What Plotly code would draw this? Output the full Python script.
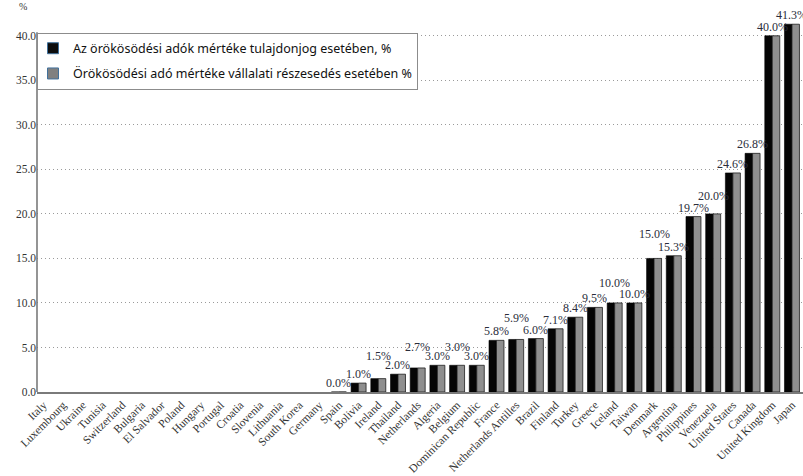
import plotly.graph_objects as go

countries = [
    "Italy", "Luxembourg", "Ukraine", "Tunisia", "Switzerland", "Bulgaria",
    "El Salvador", "Poland", "Hungary", "Portugal", "Croatia", "Slovenia",
    "Lithuania", "South Korea", "Germany", "Spain", "Bolivia", "Ireland",
    "Thailand", "Netherlands", "Algeria", "Belgium", "Dominican Republic",
    "France", "Netherlands Antilles", "Brazil", "Finland", "Turkey", "Greece",
    "Iceland", "Taiwan", "Denmark", "Argentina", "Philippines", "Venezuela",
    "United States", "Canada", "United Kingdom", "Japan",
]

# inheritance tax rate on property, %
property_rate = [
    None, None, None, None, None, None, None, None, None, None, None, None,
    None, None, None, 0.0, 1.0, 1.5, 2.0, 2.7, 3.0, 3.0, 3.0, 5.8, 5.9, 6.0,
    7.1, 8.4, 9.5, 10.0, 10.0, 15.0, 15.3, 19.7, 20.0, 24.6, 26.8, 40.0, 41.3,
]

# inheritance tax rate on company shares, %
share_rate = [
    None, None, None, None, None, None, None, None, None, None, None, None,
    None, None, None, 0.0, 1.0, 1.5, 2.0, 2.7, 3.0, 3.0, 3.0, 5.8, 5.9, 6.0,
    7.1, 8.4, 9.5, 10.0, 10.0, 15.0, 15.3, 19.7, 20.0, 24.6, 26.8, 40.0, 41.3,
]

series_names = [
    "Az örökösödési adók mértéke tulajdonjog esetében, %",
    "Örökösödési adó mértéke vállalati részesedés esetében %",
]

y_ticks = [0, 5, 10, 15, 20, 25, 30, 35, 40]

# extra lift (px) for value labels that would otherwise collide
label_lift = {
    "Ireland": 14, "Netherlands": 12, "Belgium": 9, "Netherlands Antilles": 12,
    "Iceland": 11, "Denmark": 15, "Venezuela": 9,
}

SERIF = "Liberation Serif, Times New Roman, serif"

fig = go.Figure()

fig.add_trace(go.Bar(
    x=countries, y=property_rate, name=series_names[0], showlegend=False,
    marker=dict(color="#050505", line=dict(color="#000000", width=0.6)),
    hoverinfo="x+y",
))
fig.add_trace(go.Bar(
    x=countries, y=share_rate, name=series_names[1], showlegend=False,
    marker=dict(color="#8f8f8f", line=dict(color="#1e1e1e", width=0.8)),
    hoverinfo="x+y",
))

# legend entries with square swatches
for name, col, grp in [(series_names[0], "#0d0d0d", "a"), (series_names[1], "#808080", "b")]:
    fig.add_trace(go.Scatter(
        x=[None], y=[None], mode="markers", name=name, legendgroup=grp,
        marker=dict(symbol="square", size=11, color=col,
                    line=dict(color="#41719c", width=1)),
    ))

# value labels above each bar
for c, v in zip(countries, property_rate):
    if v is None:
        continue
    fig.add_annotation(
        x=c, y=v, text=f"{v:.1f}%", showarrow=False,
        xanchor="center", yanchor="middle", yshift=9 + label_lift.get(c, 0),
        font=dict(family=SERIF, size=12, color="#2a2d3a"),
    )

# "%" unit label above the value axis
fig.add_annotation(
    xref="paper", yref="paper", x=0, y=1.01, xshift=-14, yshift=0,
    text="%", showarrow=False, xanchor="center", yanchor="bottom",
    font=dict(family=SERIF, size=10, color="#333333"),
)

# value axis line
fig.add_shape(
    type="line", xref="paper", yref="y", x0=0, x1=0, y0=0, y1=40.4,
    line=dict(color="#7a7a7a", width=1.6), layer="above",
)

fig.update_layout(
    width=803, height=476,
    margin=dict(l=37, r=0, t=18, b=77),
    paper_bgcolor="white", plot_bgcolor="white",
    barmode="group", bargap=0.24, bargroupgap=0,
    showlegend=True,
    legend=dict(
        x=0, y=0.961, xanchor="left", yanchor="top",
        bgcolor="white", bordercolor="#8c8c8c", borderwidth=1,
        font=dict(family="Noto Sans, Open Sans, sans-serif", size=12.5, color="#111111"),
        tracegroupgap=6, indentation=-5,
    ),
    xaxis=dict(
        type="category", range=[-0.325, 38.56],
        tickangle=-45, showgrid=False, ticks="",
        showline=True, linecolor="#7a7a7a", linewidth=1.6,
        tickfont=dict(family=SERIF, size=11.5, color="#333333"),
    ),
    yaxis=dict(
        range=[0, 42], tickvals=y_ticks,
        ticktext=[f"{t:.1f}" for t in y_ticks],
        showgrid=True, gridcolor="#9a9a9a", griddash="1px,3px", gridwidth=1,
        zeroline=False, showline=False, ticks="",
        tickfont=dict(family=SERIF, size=11.5, color="#333333"),
    ),
)

fig.write_html("out.html")
